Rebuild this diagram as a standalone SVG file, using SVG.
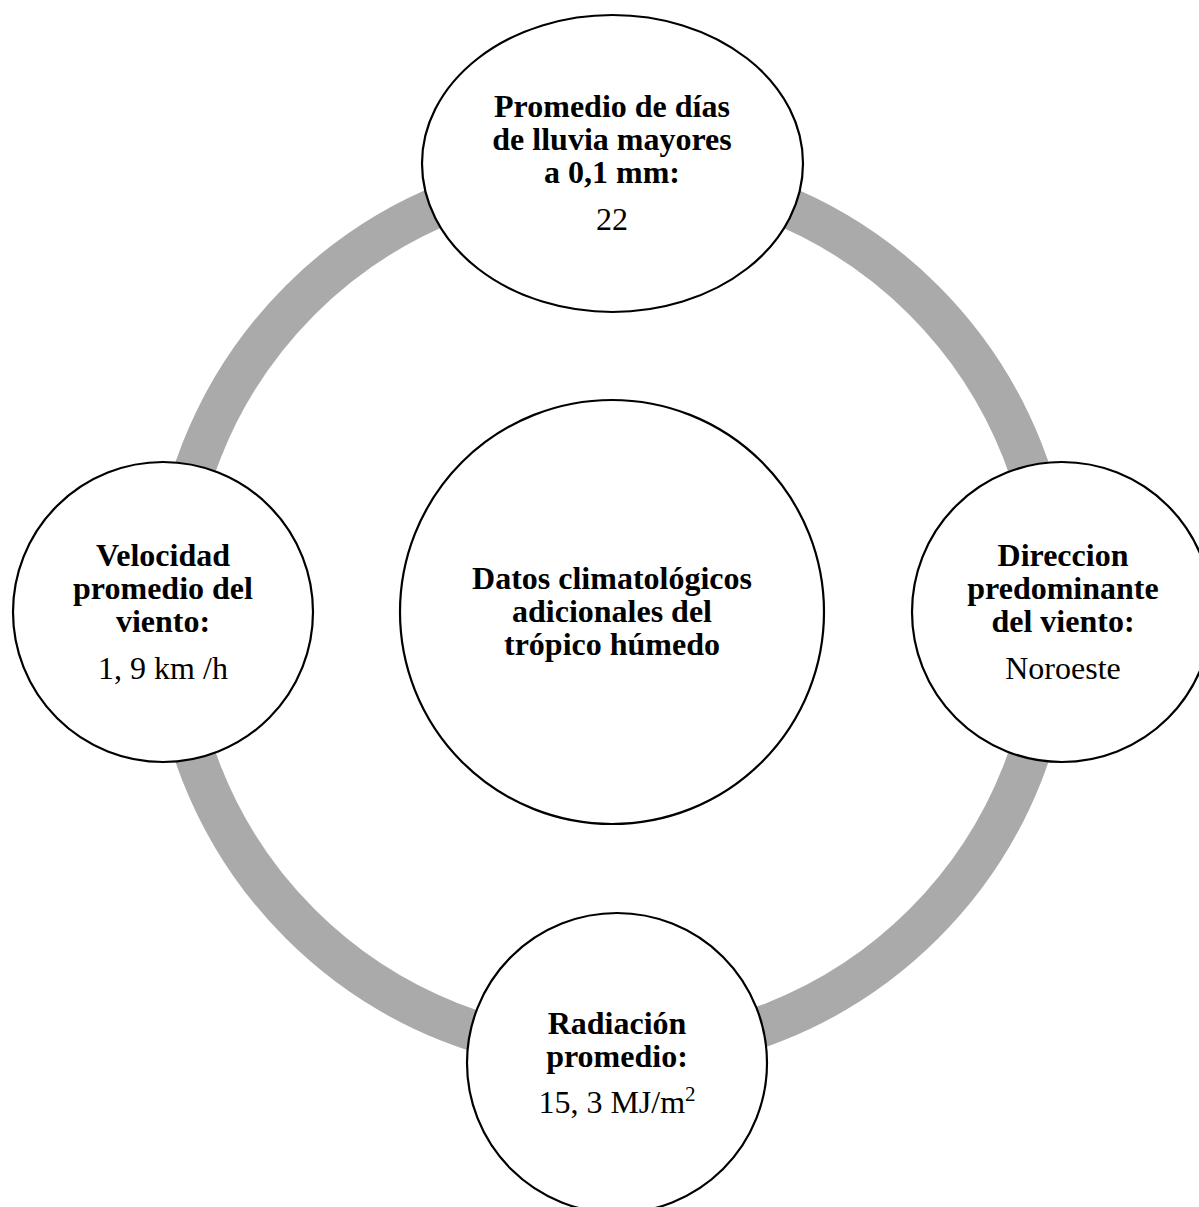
<svg xmlns="http://www.w3.org/2000/svg" width="1199" height="1207" viewBox="0 0 1199 1207">
<style>
.node{fill:#ffffff;stroke:#000000;stroke-width:2.2}
.ring{fill:none;stroke:#aaaaaa;stroke-width:41}
text{font-family:"Liberation Serif","Times New Roman",serif;font-size:32px;fill:#000000;text-anchor:middle}
.b{font-weight:bold}
</style>
<rect width="1199" height="1207" fill="#ffffff"/>
<g id="connectors">
<circle class="ring" cx="612" cy="612" r="441"/>
</g>
<g id="center">
<circle class="node" cx="612" cy="612" r="212"/>
<text class="b" x="612" y="589">Datos climatológicos</text>
<text class="b" x="612" y="622">adicionales del</text>
<text class="b" x="612" y="655">trópico húmedo</text>
</g>
<g id="top">
<ellipse class="node" cx="612.5" cy="163.5" rx="190.5" ry="148.5"/>
<text class="b" x="612" y="117">Promedio de días</text>
<text class="b" x="612" y="150">de lluvia mayores</text>
<text class="b" x="612" y="183">a 0,1 mm:</text>
<text x="612" y="230">22</text>
</g>
<g id="left">
<circle class="node" cx="163" cy="612" r="150"/>
<text class="b" x="163" y="566">Velocidad</text>
<text class="b" x="163" y="599">promedio del</text>
<text class="b" x="163" y="632">viento:</text>
<text x="163" y="679">1, 9 km /h</text>
</g>
<g id="right">
<circle class="node" cx="1062" cy="612" r="150"/>
<text class="b" x="1063" y="566">Direccion</text>
<text class="b" x="1063" y="599">predominante</text>
<text class="b" x="1063" y="632">del viento:</text>
<text x="1063" y="679">Noroeste</text>
</g>
<g id="bottom">
<circle class="node" cx="617" cy="1063" r="150"/>
<text class="b" x="617" y="1034">Radiación</text>
<text class="b" x="617" y="1067">promedio:</text>
<text x="617" y="1113">15, 3 MJ/m<tspan dy="-12" font-size="21">2</tspan></text>
</g>
</svg>
